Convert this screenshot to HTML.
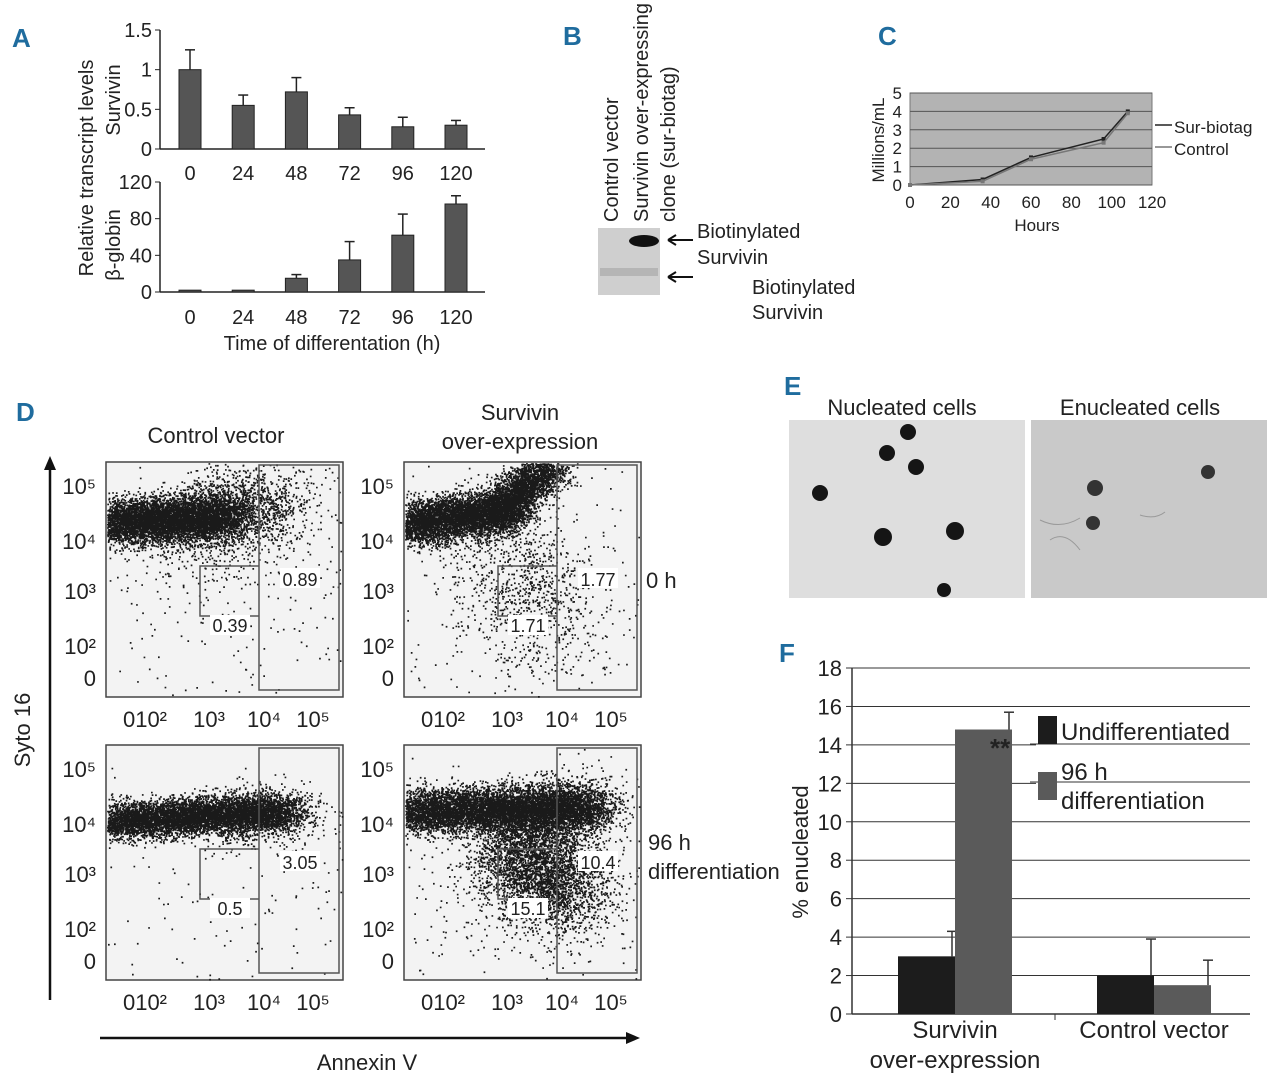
<!DOCTYPE html>
<html><head><meta charset="utf-8">
<style>
html,body{margin:0;padding:0;background:#fff;}
svg{display:block;font-family:"Liberation Sans Narrow","Liberation Sans",sans-serif;}
.lbl{font-size:20px;fill:#222;}
.pl{font-size:26px;font-weight:bold;fill:#1f6c9e;font-family:"Liberation Sans",sans-serif;}
</style></head>
<body>
<svg id="fig" width="1280" height="1087" viewBox="0 0 1280 1087" xmlns="http://www.w3.org/2000/svg">
<g id="static">
<text class="pl" x="12" y="47">A</text>
<text class="pl" x="563" y="45">B</text>
<text class="pl" x="878" y="45">C</text>
<text class="pl" x="16" y="421">D</text>
<text class="pl" x="784" y="395">E</text>
<text class="pl" x="779" y="662">F</text>

<text class="lbl" transform="translate(93,168) rotate(-90)" text-anchor="middle">Relative transcript levels</text>
<text class="lbl" transform="translate(120,100) rotate(-90)" text-anchor="middle">Survivin</text>
<text class="lbl" transform="translate(120,245) rotate(-90)" text-anchor="middle">β-globin</text>
<text class="lbl" x="332" y="350" text-anchor="middle">Time of differentation (h)</text>

<!-- B -->
<text class="lbl" transform="translate(618,222) rotate(-90)">Control vector</text>
<text class="lbl" transform="translate(648,222) rotate(-90)">Survivin over-expressing</text>
<text class="lbl" transform="translate(675,222) rotate(-90)">clone (sur-biotag)</text>
<rect x="598" y="228" width="62" height="67" fill="#cfcfcf"/>
<rect x="600" y="268" width="58" height="8" fill="#b5b5b5"/>
<ellipse cx="644" cy="241" rx="15" ry="6" fill="#111"/>
<line x1="668" y1="240" x2="693" y2="240" stroke="#111" stroke-width="2"/>
<path d="M668 240 l8 -5 M668 240 l8 5" stroke="#111" stroke-width="2"/>
<line x1="668" y1="277" x2="693" y2="277" stroke="#111" stroke-width="2"/>
<path d="M668 277 l8 -5 M668 277 l8 5" stroke="#111" stroke-width="2"/>
<text class="lbl" x="697" y="238">Biotinylated</text>
<text class="lbl" x="697" y="264">Survivin</text>
<text class="lbl" x="752" y="294">Biotinylated</text>
<text class="lbl" x="752" y="319">Survivin</text>

<!-- D static -->
<text class="lbl" x="216" y="443" text-anchor="middle" style="font-size:22px">Control vector</text>
<text class="lbl" x="520" y="420" text-anchor="middle" style="font-size:22px">Survivin</text>
<text class="lbl" x="520" y="449" text-anchor="middle" style="font-size:22px">over-expression</text>
<text class="lbl" x="646" y="588" style="font-size:22px">0 h</text>
<text class="lbl" x="648" y="850" style="font-size:22px">96 h</text>
<text class="lbl" x="648" y="879" style="font-size:22px">differentiation</text>
<line x1="50" y1="1000" x2="50" y2="468" stroke="#111" stroke-width="2.5"/>
<path d="M50 456 l-6 14 l12 0 z" fill="#111"/>
<line x1="100" y1="1038" x2="626" y2="1038" stroke="#111" stroke-width="2.5"/>
<path d="M640 1038 l-14 -6 l0 12 z" fill="#111"/>
<text class="lbl" transform="translate(30,730) rotate(-90)" text-anchor="middle" style="font-size:22px">Syto 16</text>
<text class="lbl" x="367" y="1070" text-anchor="middle" style="font-size:22px">Annexin V</text>

<!-- E -->
<text class="lbl" x="902" y="415" text-anchor="middle" style="font-size:22px">Nucleated cells</text>
<text class="lbl" x="1140" y="415" text-anchor="middle" style="font-size:22px">Enucleated cells</text>
<rect x="789" y="420" width="236" height="178" fill="#dedede"/>
<rect x="1031" y="420" width="236" height="178" fill="#c9c9c9"/>
<g fill="#151515">
<circle cx="908" cy="432" r="8"/><circle cx="887" cy="453" r="8"/><circle cx="916" cy="467" r="8"/>
<circle cx="820" cy="493" r="8"/><circle cx="883" cy="537" r="9"/><circle cx="955" cy="531" r="9"/><circle cx="944" cy="590" r="7"/>
</g>
<g fill="#333">
<circle cx="1095" cy="488" r="8"/><circle cx="1093" cy="523" r="7"/><circle cx="1208" cy="472" r="7"/>
</g>
<path d="M1040 520 q20 10 40 -2 M1050 540 q15 -10 30 10 M1140 515 q15 5 25 -3" stroke="#999" fill="none"/>
</g>
<g id="chartA"></g><g id="chartC"></g><g id="chartD"></g><g id="chartF"></g>
</svg>
<script>
const NS="http://www.w3.org/2000/svg";
function mk(tag,attrs,parent,txt){const e=document.createElementNS(NS,tag);for(const k in attrs)e.setAttribute(k,attrs[k]);if(txt!==undefined)e.textContent=txt;parent.appendChild(e);return e;}

// ---------- Panel A data ----------
const aCategories=["0","24","48","72","96","120"];
const aSurvivin=[1.0,0.55,0.72,0.43,0.28,0.30];
const aSurvivinErr=[0.25,0.13,0.18,0.09,0.12,0.06];
const aGlobin=[2,2,15,35,62,96];
const aGlobinErr=[0,0,4,20,23,9];
const aSurvTicks=[0,0.5,1,1.5];
const aGlobTicks=[0,40,80,120];

// ---------- Panel C data ----------
const cHours=[0,36,60,96,108];
const cSurBiotag=[0,0.3,1.5,2.5,4.0];
const cControl=[0,0.2,1.4,2.3,3.9];
const cYTicks=[0,1,2,3,4,5];
const cXTicks=[0,20,40,60,80,100,120];

// ---------- Panel F data ----------
const fCategories=["Survivin|over-expression","Control vector"];
const fUndiff=[3.0,2.0];
const fUndiffErr=[1.3,1.9];
const fDiff96=[14.8,1.5];
const fDiff96Err=[0.9,1.3];
const fTicks=[0,2,4,6,8,10,12,14,16,18];

// ---------- Panel D gate values ----------
const dGateLarge=["0.89","1.77","3.05","10.4"];
const dGateSmall=["0.39","1.71","0.5","15.1"];

// ===== A =====
(function(){
 const g=document.getElementById('chartA');
 const xs=i=>190+i*53.2;
 function sub(vals,errs,ticks,y0,y1,max,name,labY){
  const ys=v=>y0-(v/max)*(y0-y1);
  mk('line',{x1:160,y1:y1,x2:160,y2:y0,stroke:'#222','stroke-width':1.5},g);
  mk('line',{x1:160,y1:y0,x2:485,y2:y0,stroke:'#222','stroke-width':1.5},g);
  ticks.forEach(t=>{mk('line',{x1:155,x2:160,y1:ys(t),y2:ys(t),stroke:'#222'},g);
   const tt=mk('text',{x:152,y:ys(t)+7,'text-anchor':'end',class:'lbl'},g,String(t));
   });
  vals.forEach((v,i)=>{
   const r=mk('rect',{x:xs(i)-11,y:ys(v),width:22,height:y0-ys(v),fill:'#555',stroke:'#222'},g);
   
   
   if(errs[i]>0){const e=ys(v+errs[i]);
    mk('line',{x1:xs(i),x2:xs(i),y1:ys(v),y2:e,stroke:'#222','stroke-width':1.5},g);
    mk('line',{x1:xs(i)-5,x2:xs(i)+5,y1:e,y2:e,stroke:'#222','stroke-width':1.5},g);}
   const t=mk('text',{x:xs(i),y:labY,'text-anchor':'middle',class:'lbl'},g,aCategories[i]);
   
  });
 }
 sub(aSurvivin,aSurvivinErr,aSurvTicks,149,30,1.5,'survivin',180);
 sub(aGlobin,aGlobinErr,aGlobTicks,292,182,120,'globin',324);
})();

// ===== C =====
(function(){
 const g=document.getElementById('chartC');
 const xs=h=>910+h*(242/120), ys=v=>185-v*18.4;
 const bg=mk('rect',{x:910,y:93,width:242,height:92,fill:'#b3b3b3',stroke:'#777'},g);
 
 cYTicks.forEach(t=>{mk('line',{x1:910,x2:1152,y1:ys(t),y2:ys(t),stroke:'#555','stroke-width':1},g);
  const tt=mk('text',{x:902,y:ys(t)+6,'text-anchor':'end',class:'lbl',style:'font-size:17px'},g,String(t));
  });
 cXTicks.forEach(t=>{const tt=mk('text',{x:xs(t),y:208,'text-anchor':'middle',class:'lbl',style:'font-size:17px'},g,String(t));
  });
 const xt=mk('text',{x:1037,y:231,'text-anchor':'middle',class:'lbl',style:'font-size:17px'},g,'Hours');
 
 const yt=mk('text',{transform:'translate(884,140) rotate(-90)','text-anchor':'middle',class:'lbl',style:'font-size:17px'},g,'Millions/mL');
 
 [[cSurBiotag,'#222','sur-biotag'],[cControl,'#777','control']].forEach(([d,c,n])=>{
  const p=mk('polyline',{points:d.map((v,i)=>xs(cHours[i])+','+ys(v)).join(' '),fill:'none',stroke:c,'stroke-width':1.5},g);
  
  d.forEach((v,i)=>{const m=mk('rect',{x:xs(cHours[i])-2,y:ys(v)-2,width:4,height:4,fill:c},g);
   });
 });
 mk('line',{x1:1155,x2:1172,y1:125,y2:125,stroke:'#222','stroke-width':1.5},g);
 mk('line',{x1:1155,x2:1172,y1:147,y2:147,stroke:'#777','stroke-width':1.5},g);
 let t=mk('text',{x:1174,y:133,class:'lbl',style:'font-size:17px'},g,'Sur-biotag');
 
 t=mk('text',{x:1174,y:155,class:'lbl',style:'font-size:17px'},g,'Control');
 
})();

// ===== D =====
(function(){
 const g=document.getElementById('chartD');
 let seed=12345;const rnd=()=>{seed=(seed*1103515245+12345)%2147483648;return seed/2147483648;};
 const gauss=()=>{let u=rnd()||1e-6,v=rnd();return Math.sqrt(-2*Math.log(u))*Math.cos(2*Math.PI*v);};
 const plots=[{x:106,y:462,n:'control-0h'},{x:404,y:462,n:'survivin-0h'},{x:106,y:745,n:'control-96h'},{x:404,y:745,n:'survivin-96h'}];
 // texture clouds relative to plot origin: [x0,y0,x1,y1,sdx,sdy,count]
 const clouds=[
  [[0,60,120,55,14,11,6000],[90,55,160,40,25,18,1500],[60,90,200,40,35,30,600],[20,100,230,200,90,60,250]],
  [[0,62,110,48,12,11,5000],[95,45,150,0,12,10,2500],[90,100,150,150,30,40,900],[30,100,230,200,100,60,350]],
  [[0,76,180,66,16,9,6500],[120,70,185,70,25,15,700],[20,80,230,200,90,60,200]],
  [[0,66,190,62,18,11,7500],[100,100,170,150,25,25,3500],[120,80,190,60,20,20,900],[20,100,230,200,90,60,400]]
 ];
 const ylabs=['10⁵','10⁴','10³','10²','0'];const yoff=[23,78,128,183,215];
 const xlabs=['010²','10³','10⁴','10⁵'];const xoff=[39,103,158,207];
 plots.forEach((p,pi)=>{
  const fr=mk('rect',{x:p.x,y:p.y,width:237,height:235,fill:'#f3f3f3',stroke:'#444','stroke-width':1.5},g);
  
  let path='';
  clouds[pi].forEach(c=>{for(let k=0;k<c[6];k++){const t=rnd();const x=c[0]+(c[2]-c[0])*t+gauss()*c[4];const y=c[1]+(c[3]-c[1])*t+gauss()*c[5];
   if(x>1&&x<236&&y>1&&y<234)path+='M'+(p.x+x).toFixed(1)+' '+(p.y+y).toFixed(1)+'h1.7v1.7h-1.7z';}});
  const dots=mk('path',{d:path,fill:'#1a1a1a'},g);
  
  const lg=mk('rect',{x:p.x+153,y:p.y+3,width:80,height:225,fill:'none',stroke:'#555','stroke-width':1.5},g);
  
  const sg=mk('path',{d:`M${p.x+153} ${p.y+104}H${p.x+94}V${p.y+154}H${p.x+153}`,fill:'none',stroke:'#555','stroke-width':1.5},g);
  
  let t=mk('rect',{x:p.x+174,y:p.y+106,width:40,height:20,fill:'#fff'},g);
  t=mk('text',{x:p.x+194,y:p.y+124,'text-anchor':'middle',class:'lbl',style:'font-size:18px'},g,dGateLarge[pi]);
  
  mk('rect',{x:p.x+104,y:p.y+153,width:40,height:20,fill:'#fff'},g);
  t=mk('text',{x:p.x+124,y:p.y+170,'text-anchor':'middle',class:'lbl',style:'font-size:18px'},g,dGateSmall[pi]);
  
  ylabs.forEach((l,i)=>{const tt=mk('text',{x:p.x-10,y:p.y+yoff[i]+9,'text-anchor':'end',class:'lbl',style:'font-size:22px'},g,l);
   });
  xlabs.forEach((l,i)=>{const tt=mk('text',{x:p.x+xoff[i],y:p.y+265,'text-anchor':'middle',class:'lbl',style:'font-size:22px'},g,l);
   });
 });
})();

// ===== F =====
(function(){
 const g=document.getElementById('chartF');
 const y0=1014,y1=668,max=18;const ys=v=>y0-(v/max)*(y0-y1);
 const gx=[898,1097];const bw=57;
 fTicks.forEach(t=>{
  if(t>0)mk('line',{x1:852,x2:1250,y1:ys(t),y2:ys(t),stroke:'#333','stroke-width':1},g);
  mk('line',{x1:846,x2:852,y1:ys(t),y2:ys(t),stroke:'#333'},g);
  const tt=mk('text',{x:842,y:ys(t)+8,'text-anchor':'end',class:'lbl',style:'font-size:22px'},g,String(t));
  });
 mk('line',{x1:852,x2:852,y1:y1,y2:y0,stroke:'#333','stroke-width':1.5},g);
 mk('line',{x1:852,x2:1250,y1:y0,y2:y0,stroke:'#333','stroke-width':1.5},g);
 mk('line',{x1:1055,x2:1055,y1:y0,y2:y0+6,stroke:'#333'},g);
 function bar(x,v,e,c,n){
  const r=mk('rect',{x:x,y:ys(v),width:bw,height:y0-ys(v),fill:c},g);
  
  const cx=x+bw-3;mk('line',{x1:cx,x2:cx,y1:ys(v),y2:ys(v+e),stroke:'#333','stroke-width':1.5},g);
  mk('line',{x1:cx-5,x2:cx+5,y1:ys(v+e),y2:ys(v+e),stroke:'#333','stroke-width':1.5},g);
 }
 fCategories.forEach((c,i)=>{
  bar(gx[i],fUndiff[i],fUndiffErr[i],'#1c1c1c','f-bar-undifferentiated-'+i);
  bar(gx[i]+bw,fDiff96[i],fDiff96Err[i],'#5a5a5a','f-bar-96h-'+i);
  c.split('|').forEach((l,j)=>{const tt=mk('text',{x:gx[i]+bw,y:1038+j*30,'text-anchor':'middle',class:'lbl',style:'font-size:24px'},g,l);
   });
 });
 let t=mk('text',{x:990,y:757,class:'lbl',style:'font-size:26px;font-weight:bold'},g,'**');
 
 mk('rect',{x:1036,y:712,width:214,height:34,fill:'#fff'},g);
 mk('rect',{x:1036,y:766,width:214,height:48,fill:'#fff'},g);
 mk('line',{x1:1030,x2:1250,y1:744,y2:744,stroke:'#333'},g);
 mk('line',{x1:1030,x2:1250,y1:782,y2:782,stroke:'#333'},g);
 let r=mk('rect',{x:1038,y:716,width:19,height:28,fill:'#1c1c1c'},g);
 
 r=mk('rect',{x:1038,y:772,width:19,height:28,fill:'#5a5a5a'},g);
 
 t=mk('text',{x:1061,y:740,class:'lbl',style:'font-size:24px'},g,'Undifferentiated');
 
 t=mk('text',{x:1061,y:780,class:'lbl',style:'font-size:24px'},g,'96 h');
 
 t=mk('text',{x:1061,y:809,class:'lbl',style:'font-size:24px'},g,'differentiation');
 
 t=mk('text',{transform:'translate(808,852) rotate(-90)','text-anchor':'middle',class:'lbl',style:'font-size:22px'},g,'% enucleated');
 
})();
</script>
</body></html>
